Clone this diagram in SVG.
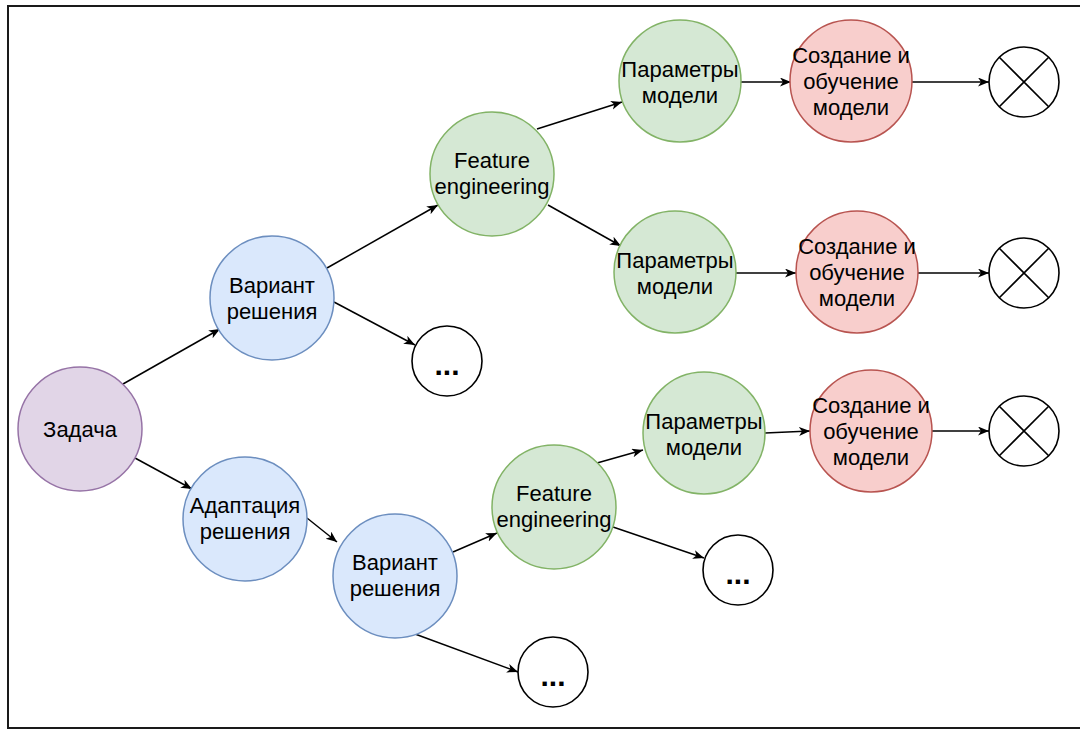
<svg xmlns="http://www.w3.org/2000/svg" width="1080" height="729" viewBox="0 0 1080 729">
  <defs>
    <style>
      .lbl { font-family: "Liberation Sans", Arial, Helvetica, sans-serif; font-size: 22px; fill: #000; text-anchor: middle; }
      .more { font-family: "Liberation Sans", Arial, Helvetica, sans-serif; font-size: 30px; font-weight: bold; fill: #000; text-anchor: middle; }
      .task { fill: #e1d5e7; stroke: #9673a6; stroke-width: 1.5; }
      .variant { fill: #dae8fc; stroke: #6c8ebf; stroke-width: 1.5; }
      .feat { fill: #d5e8d4; stroke: #82b366; stroke-width: 1.5; }
      .train { fill: #f8cecc; stroke: #b85450; stroke-width: 1.5; }
      .plain { fill: #fff; stroke: #000; stroke-width: 1.6; }
      .edge { stroke: #000; stroke-width: 1.5; fill: none; marker-end: url(#arrow); }
    </style>
    <marker id="arrow" markerUnits="userSpaceOnUse" markerWidth="12" markerHeight="10" refX="11" refY="4.5" orient="auto">
      <path d="M0,0 L11,4.5 L0,9 L3,4.5 Z" fill="#000"/>
    </marker>
  </defs>

  <rect width="1080" height="729" fill="#fff"/>
  <!-- frame -->
  <rect x="8" y="6" width="1100" height="722" fill="none" stroke="#1a1a1a" stroke-width="2"/>

  <!-- connectors -->
  <g id="connectors">
    <line class="edge" x1="123" y1="384" x2="220" y2="329"/>
    <line class="edge" x1="135" y1="458" x2="192" y2="489"/>
    <line class="edge" x1="307" y1="518" x2="337" y2="542"/>
    <line class="edge" x1="327" y1="268" x2="438" y2="205"/>
    <line class="edge" x1="334" y1="302" x2="415" y2="345"/>
    <line class="edge" x1="537" y1="129" x2="622" y2="102"/>
    <line class="edge" x1="548" y1="205" x2="621" y2="246"/>
    <line class="edge" x1="739" y1="82" x2="791" y2="82"/>
    <line class="edge" x1="911" y1="82" x2="989" y2="82"/>
    <line class="edge" x1="736" y1="273" x2="796" y2="273"/>
    <line class="edge" x1="918" y1="273" x2="989" y2="273"/>
    <line class="edge" x1="453" y1="552" x2="497" y2="533"/>
    <line class="edge" x1="415" y1="634" x2="518" y2="672"/>
    <line class="edge" x1="597" y1="463" x2="643" y2="450"/>
    <line class="edge" x1="613" y1="527" x2="704" y2="558"/>
    <line class="edge" x1="765" y1="433" x2="810" y2="431"/>
    <line class="edge" x1="932" y1="431" x2="989" y2="431"/>
  </g>

  <!-- nodes -->
  <g id="task">
    <circle class="task" cx="80" cy="429" r="62"/>
    <text class="lbl" x="80" y="437">Задача</text>
  </g>
  <g id="variant-a">
    <circle class="variant" cx="272" cy="298" r="62"/>
    <text class="lbl" x="272" y="293">Вариант</text>
    <text class="lbl" x="272" y="319">решения</text>
  </g>
  <g id="adaptation">
    <circle class="variant" cx="245" cy="519" r="62"/>
    <text class="lbl" x="245" y="513">Адаптация</text>
    <text class="lbl" x="245" y="539">решения</text>
  </g>
  <g id="variant-b">
    <circle class="variant" cx="395" cy="576" r="62"/>
    <text class="lbl" x="395" y="570">Вариант</text>
    <text class="lbl" x="395" y="596">решения</text>
  </g>
  <g id="features-a">
    <circle class="feat" cx="492" cy="174" r="62"/>
    <text class="lbl" x="492" y="168">Feature</text>
    <text class="lbl" x="492" y="194">engineering</text>
  </g>
  <g id="features-b">
    <circle class="feat" cx="554" cy="507" r="62"/>
    <text class="lbl" x="554" y="501">Feature</text>
    <text class="lbl" x="554" y="527">engineering</text>
  </g>
  <g id="more-a">
    <circle class="plain" cx="447" cy="361" r="35"/>
    <text class="more" x="447" y="375">...</text>
  </g>
  <g id="more-b1">
    <circle class="plain" cx="738" cy="570" r="35"/>
    <text class="more" x="738" y="584">...</text>
  </g>
  <g id="more-b2">
    <circle class="plain" cx="553" cy="672" r="35"/>
    <text class="more" x="553" y="686">...</text>
  </g>
  <g id="params-a1">
    <circle class="feat" cx="680" cy="81" r="61"/>
    <text class="lbl" x="680" y="77">Параметры</text>
    <text class="lbl" x="680" y="103">модели</text>
  </g>
  <g id="params-a2">
    <circle class="feat" cx="675" cy="272" r="61"/>
    <text class="lbl" x="675" y="268">Параметры</text>
    <text class="lbl" x="675" y="294">модели</text>
  </g>
  <g id="params-b">
    <circle class="feat" cx="704" cy="433" r="61"/>
    <text class="lbl" x="704" y="429">Параметры</text>
    <text class="lbl" x="704" y="455">модели</text>
  </g>
  <g id="train-a1">
    <circle class="train" cx="851" cy="81" r="61"/>
    <text class="lbl" x="851" y="63">Создание и</text>
    <text class="lbl" x="851" y="89">обучение</text>
    <text class="lbl" x="851" y="115">модели</text>
  </g>
  <g id="train-a2">
    <circle class="train" cx="857" cy="272" r="61"/>
    <text class="lbl" x="857" y="254">Создание и</text>
    <text class="lbl" x="857" y="280">обучение</text>
    <text class="lbl" x="857" y="306">модели</text>
  </g>
  <g id="train-b">
    <circle class="train" cx="871" cy="431" r="61"/>
    <text class="lbl" x="871" y="413">Создание и</text>
    <text class="lbl" x="871" y="439">обучение</text>
    <text class="lbl" x="871" y="465">модели</text>
  </g>
  <g id="end-a1">
    <circle class="plain" cx="1024" cy="82" r="35"/>
    <path class="plain" d="M999.3,57.3 L1048.7,106.7 M1048.7,57.3 L999.3,106.7"/>
  </g>
  <g id="end-a2">
    <circle class="plain" cx="1024" cy="273" r="35"/>
    <path class="plain" d="M999.3,248.3 L1048.7,297.7 M1048.7,248.3 L999.3,297.7"/>
  </g>
  <g id="end-b">
    <circle class="plain" cx="1024" cy="431" r="35"/>
    <path class="plain" d="M999.3,406.3 L1048.7,455.7 M1048.7,406.3 L999.3,455.7"/>
  </g>
</svg>
